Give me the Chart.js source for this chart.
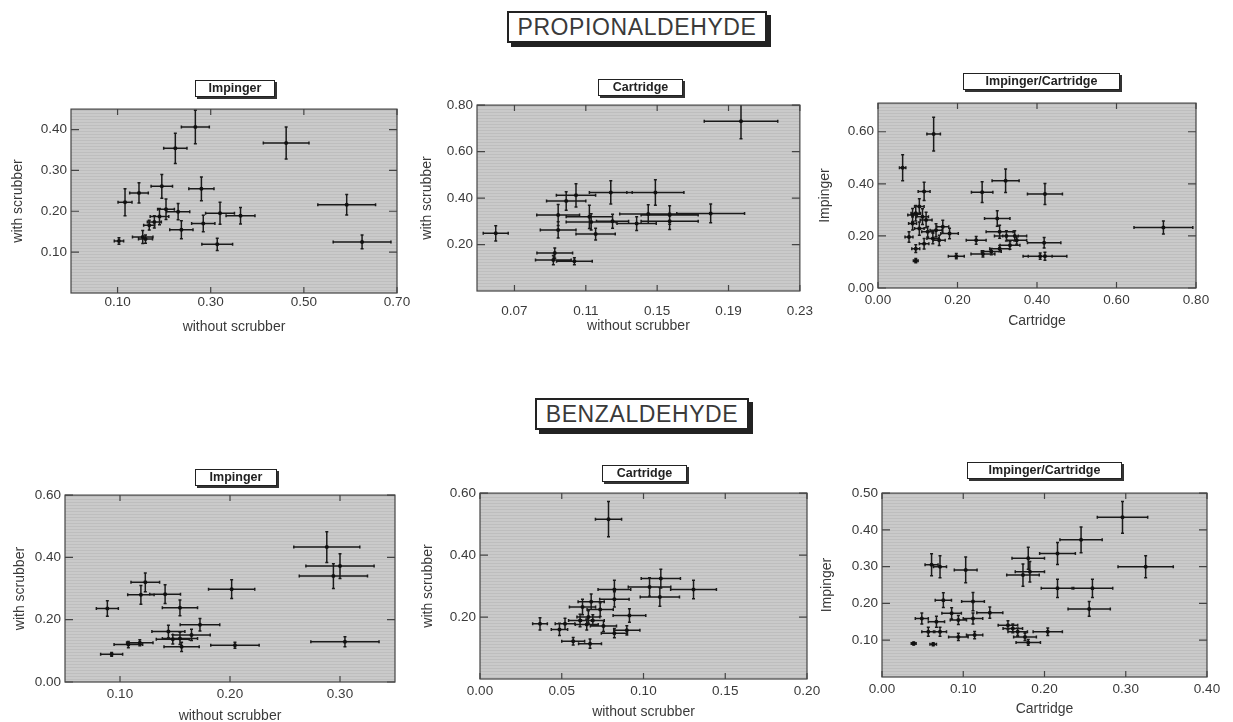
<!DOCTYPE html>
<html><head><meta charset="utf-8">
<script src="https://cdn.jsdelivr.net/npm/chart.js@4/dist/chart.umd.min.js"></script>
<style>
body{margin:0;background:#fff;width:1233px;height:722px;overflow:hidden;position:relative;font-family:"Liberation Sans",Arial,sans-serif}
.big{position:absolute;border:2px solid #222;background:#fff;box-shadow:4px 4px 0 #222;font-size:23px;color:#3a3a3a;text-align:center;letter-spacing:0.6px;line-height:28px}
.sub{position:absolute;border:1.5px solid #222;background:#fff;box-shadow:2px 2px 0 #333;font-weight:bold;font-size:12.5px;color:#222;text-align:center;line-height:15px;padding:0 3px}
canvas{position:absolute}
</style></head><body>
<div class="big" style="left:507px;top:11px;width:256px;height:28px">PROPIONALDEHYDE</div>
<div class="big" style="left:535px;top:398px;width:210px;height:28px">BENZALDEHYDE</div>
<script>
// ---------- DATA ----------
// Propionaldehyde – Impinger
const p1X    = [0.267,0.224,0.462,0.195,0.280,0.146,0.116,0.592,0.625,0.204,0.230,0.190,0.179,0.168,0.320,0.364,0.284,0.237,0.314,0.154,0.103,0.160];
const p1Y    = [0.406,0.354,0.367,0.261,0.255,0.245,0.222,0.216,0.125,0.205,0.199,0.187,0.174,0.166,0.195,0.189,0.170,0.155,0.119,0.137,0.127,0.132];
const p1XErr = [0.030,0.025,0.049,0.023,0.027,0.020,0.015,0.062,0.062,0.018,0.025,0.020,0.015,0.012,0.031,0.031,0.025,0.025,0.033,0.022,0.010,0.015];
const p1YErr = [0.041,0.037,0.039,0.029,0.029,0.025,0.033,0.025,0.017,0.025,0.020,0.020,0.015,0.012,0.027,0.020,0.020,0.022,0.015,0.016,0.008,0.010];
// Propionaldehyde – Cartridge
const p2X    = [0.197,0.0595,0.124,0.149,0.1045,0.099,0.0945,0.0945,0.112,0.113,0.1155,0.125,0.1385,0.145,0.157,0.157,0.180,0.0926,0.0918,0.1036];
const p2Y    = [0.730,0.248,0.424,0.424,0.412,0.387,0.327,0.263,0.319,0.297,0.245,0.300,0.290,0.331,0.327,0.300,0.334,0.163,0.133,0.128];
const p2XErr = [0.0206,0.007,0.012,0.016,0.011,0.011,0.012,0.010,0.013,0.014,0.011,0.009,0.011,0.016,0.016,0.016,0.019,0.010,0.010,0.010];
const p2YErr = [0.075,0.033,0.050,0.055,0.050,0.040,0.045,0.035,0.050,0.035,0.025,0.030,0.030,0.040,0.040,0.035,0.040,0.022,0.020,0.015];
// Propionaldehyde – Impinger vs Cartridge
const p3X    = [0.140,0.062,0.262,0.321,0.420,0.718,0.300,0.418,0.420,0.408,0.247,0.306,0.323,0.344,0.349,0.332,0.306,0.285,0.264,0.197,0.116,0.104,0.095,0.112,0.121,0.087,0.104,0.125,0.146,0.163,0.180,0.138,0.154,0.116,0.095,0.095,0.078,0.087];
const p3Y    = [0.591,0.462,0.368,0.412,0.361,0.232,0.267,0.174,0.122,0.122,0.183,0.216,0.200,0.200,0.183,0.164,0.151,0.140,0.131,0.122,0.371,0.313,0.287,0.274,0.261,0.248,0.228,0.216,0.222,0.235,0.209,0.190,0.183,0.170,0.151,0.105,0.196,0.280];
const p3XErr = [0.017,0.008,0.027,0.034,0.044,0.074,0.032,0.042,0.055,0.030,0.025,0.034,0.030,0.030,0.025,0.025,0.025,0.025,0.030,0.020,0.015,0.012,0.012,0.015,0.015,0.010,0.012,0.015,0.015,0.015,0.022,0.015,0.015,0.012,0.010,0.006,0.010,0.012];
const p3YErr = [0.065,0.050,0.040,0.045,0.040,0.025,0.030,0.020,0.015,0.012,0.015,0.025,0.020,0.020,0.015,0.015,0.012,0.012,0.012,0.010,0.035,0.030,0.030,0.030,0.030,0.025,0.025,0.020,0.025,0.025,0.020,0.020,0.020,0.020,0.015,0.008,0.020,0.025];
// Benzaldehyde – Impinger
const p4X    = [0.288,0.300,0.294,0.3045,0.2015,0.2045,0.123,0.119,0.141,0.1545,0.0885,0.1727,0.144,0.165,0.1545,0.156,0.118,0.1076,0.0924,0.148];
const p4Y    = [0.433,0.372,0.340,0.129,0.298,0.118,0.320,0.280,0.282,0.238,0.236,0.184,0.162,0.151,0.140,0.113,0.126,0.120,0.089,0.137];
const p4XErr = [0.030,0.031,0.031,0.031,0.021,0.022,0.013,0.012,0.014,0.016,0.010,0.018,0.015,0.017,0.016,0.016,0.012,0.013,0.010,0.015];
const p4YErr = [0.049,0.040,0.040,0.016,0.030,0.010,0.030,0.030,0.030,0.025,0.025,0.020,0.020,0.018,0.020,0.015,0.010,0.010,0.006,0.015];
// Benzaldehyde – Cartridge
const p5X    = [0.0786,0.1106,0.1037,0.1306,0.110,0.0822,0.0822,0.068,0.0627,0.0735,0.0914,0.0663,0.0612,0.0367,0.0486,0.052,0.0653,0.0755,0.0822,0.0898,0.057,0.0673,0.069];
const p5Y    = [0.516,0.324,0.297,0.289,0.265,0.289,0.257,0.249,0.232,0.224,0.205,0.200,0.189,0.178,0.160,0.178,0.176,0.171,0.148,0.157,0.122,0.114,0.189];
const p5XErr = [0.008,0.012,0.013,0.014,0.012,0.010,0.009,0.008,0.008,0.008,0.010,0.007,0.007,0.0045,0.005,0.006,0.007,0.008,0.008,0.008,0.007,0.007,0.007];
const p5YErr = [0.057,0.030,0.030,0.030,0.030,0.030,0.025,0.025,0.025,0.022,0.022,0.020,0.020,0.020,0.020,0.018,0.018,0.018,0.015,0.015,0.012,0.015,0.018];
// Benzaldehyde – Impinger vs Cartridge
const p6X    = [0.296,0.3245,0.245,0.216,0.180,0.1735,0.182,0.216,0.259,0.255,0.061,0.0714,0.103,0.0755,0.112,0.1327,0.0857,0.049,0.067,0.057,0.0714,0.094,0.114,0.112,0.039,0.063,0.155,0.161,0.167,0.176,0.180,0.204,0.094];
const p6Y    = [0.434,0.300,0.373,0.336,0.323,0.277,0.286,0.241,0.241,0.185,0.305,0.300,0.291,0.209,0.205,0.175,0.173,0.159,0.150,0.123,0.123,0.109,0.114,0.159,0.091,0.089,0.141,0.132,0.123,0.109,0.094,0.123,0.155];
const p6XErr = [0.031,0.034,0.026,0.022,0.020,0.020,0.018,0.020,0.025,0.026,0.008,0.008,0.014,0.010,0.014,0.016,0.012,0.008,0.010,0.008,0.008,0.012,0.010,0.012,0.003,0.004,0.012,0.012,0.012,0.014,0.015,0.018,0.010];
const p6YErr = [0.043,0.030,0.035,0.030,0.030,0.030,0.028,0.025,0.025,0.020,0.030,0.030,0.035,0.020,0.025,0.015,0.015,0.015,0.015,0.012,0.012,0.010,0.010,0.015,0.004,0.004,0.012,0.012,0.010,0.010,0.008,0.010,0.012];

// tick labels
const p1XTicks = [0.10,0.30,0.50,0.70], p1YTicks = [0.10,0.20,0.30,0.40];
const p2XTicks = [0.07,0.11,0.15,0.19,0.23], p2YTicks = [0.20,0.40,0.60,0.80];
const p3XTicks = [0.00,0.20,0.40,0.60,0.80], p3YTicks = [0.00,0.20,0.40,0.60];
const p4XTicks = [0.10,0.20,0.30], p4YTicks = [0.00,0.20,0.40,0.60];
const p5XTicks = [0.00,0.05,0.10,0.15,0.20], p5YTicks = [0.20,0.40,0.60];
const p6XTicks = [0.00,0.10,0.20,0.30,0.40], p6YTicks = [0.10,0.20,0.30,0.40,0.50];

// ---------- LAYOUT ----------
const panels = [
 {title:'Impinger', area:[71,109,397,293], yTitleX:18, xTitleGap:35, xPad:1, tb:[195,80,80],
  xs:p1X, ys:p1Y, xe:p1XErr, ye:p1YErr, xr:[0,0.70], yr:[0,0.45], xt:p1XTicks, yt:p1YTicks, xl:'without scrubber', yl:'with scrubber'},
 {title:'Cartridge', area:[477,105,803,291], yTitleX:427, xTitleGap:36, xPad:12, tb:[598,79,85],
  xs:p2X, ys:p2Y, xe:p2XErr, ye:p2YErr, xr:[0.049,0.23], yr:[0,0.80], xt:p2XTicks, yt:p2YTicks, xl:'without scrubber', yl:'with scrubber'},
 {title:'Impinger/Cartridge', area:[878,103,1196,288], yTitleX:825, xTitleGap:34, xPad:4, tb:[963,73,157],
  xs:p3X, ys:p3Y, xe:p3XErr, ye:p3YErr, xr:[0,0.80], yr:[0,0.71], xt:p3XTicks, yt:p3YTicks, xl:'Cartridge', yl:'Impinger'},
 {title:'Impinger', area:[65,495,395,682], yTitleX:20, xTitleGap:35, xPad:4, tb:[195,469,82],
  xs:p4X, ys:p4Y, xe:p4XErr, ye:p4YErr, xr:[0.05,0.35], yr:[0,0.60], xt:p4XTicks, yt:p4YTicks, xl:'without scrubber', yl:'with scrubber'},
 {title:'Cartridge', area:[480,493,807,679], yTitleX:428, xTitleGap:34, xPad:4, tb:[602,465,85],
  xs:p5X, ys:p5Y, xe:p5XErr, ye:p5YErr, xr:[0,0.20], yr:[0,0.60], xt:p5XTicks, yt:p5YTicks, xl:'without scrubber', yl:'with scrubber'},
 {title:'Impinger/Cartridge', area:[882,493,1207,677], yTitleX:827, xTitleGap:33, xPad:4, tb:[967,462,155],
  xs:p6X, ys:p6Y, xe:p6XErr, ye:p6YErr, xr:[0,0.40], yr:[0,0.50], xt:p6XTicks, yt:p6YTicks, xl:'Cartridge', yl:'Impinger'}
];

// ---------- PLUGINS ----------
const pat = document.createElement('canvas'); pat.width = 4; pat.height = 3;
(function(){const g = pat.getContext('2d'); g.fillStyle='#cacaca'; g.fillRect(0,0,4,3); g.fillStyle='#bebebe'; g.fillRect(0,1,4,1);})();

const plotBg = {id:'plotBg', beforeDatasetsDraw(chart){
  const {ctx, chartArea:a} = chart; ctx.save();
  ctx.fillStyle = ctx.createPattern(pat,'repeat'); ctx.fillRect(a.left,a.top,a.width,a.height);
  ctx.restore();
}};
const errBars = {id:'errBars', beforeDatasetsDraw(chart, args, opts){
  const {ctx, chartArea:a, scales:{x, y}} = chart;
  ctx.save(); ctx.beginPath(); ctx.rect(a.left,a.top,a.width,a.height); ctx.clip();
  ctx.strokeStyle = '#1a1a1a'; ctx.lineWidth = 1.5; ctx.beginPath();
  opts.xs.forEach((xv,i)=>{
    const yv = opts.ys[i];
    const px = x.getPixelForValue(xv), py = y.getPixelForValue(yv);
    const x0 = x.getPixelForValue(xv-opts.xe[i]), x1 = x.getPixelForValue(xv+opts.xe[i]);
    const y0 = y.getPixelForValue(yv-opts.ye[i]), y1 = y.getPixelForValue(yv+opts.ye[i]);
    ctx.moveTo(x0,py); ctx.lineTo(x1,py);
    ctx.moveTo(px,y0); ctx.lineTo(px,y1);
    ctx.moveTo(x0,py-1.5); ctx.lineTo(x0,py+1.5);
    ctx.moveTo(x1,py-1.5); ctx.lineTo(x1,py+1.5);
    ctx.moveTo(px-1.5,y0); ctx.lineTo(px+1.5,y0);
    ctx.moveTo(px-1.5,y1); ctx.lineTo(px+1.5,y1);
  });
  ctx.stroke(); ctx.restore();
}};
const frame = {id:'frame', afterDatasetsDraw(chart){
  const {ctx, chartArea:a, scales:{x, y}} = chart;
  ctx.save(); ctx.strokeStyle='#444'; ctx.lineWidth=1.2;
  ctx.strokeRect(a.left,a.top,a.width,a.height);
  ctx.beginPath();
  x.ticks.forEach(t=>{const p = x.getPixelForValue(t.value);
    ctx.moveTo(p,a.top); ctx.lineTo(p,a.top+6); ctx.moveTo(p,a.bottom); ctx.lineTo(p,a.bottom-6);});
  y.ticks.forEach(t=>{const p = y.getPixelForValue(t.value);
    ctx.moveTo(a.left,p); ctx.lineTo(a.left+8,p); ctx.moveTo(a.right,p); ctx.lineTo(a.right-8,p);});
  ctx.stroke(); ctx.restore();
}};

// ---------- BUILD ----------
const fam = '"Liberation Sans", Arial, sans-serif';
panels.forEach(P=>{
  const [L,T,R,B] = P.area;
  const cLeft = Math.round(P.yTitleX - 8.4);
  const yW = L - cLeft, xH = Math.round(P.xTitleGap + 8.4), padTop = 12, padRight = 22;
  const cv = document.createElement('canvas');
  cv.width = (R-L) + yW + padRight; cv.height = (B-T) + padTop + xH;
  cv.style.left = cLeft+'px'; cv.style.top = (T-padTop)+'px';
  document.body.appendChild(cv);

  const tb = document.createElement('div'); tb.className='sub'; tb.textContent = P.title;
  tb.style.left = P.tb[0]+'px'; tb.style.top = P.tb[1]+'px'; tb.style.width = (P.tb[2]-8)+'px';
  document.body.appendChild(tb);

  new Chart(cv, {
    type:'scatter',
    data:{datasets:[{data:P.xs.map((v,i)=>({x:v,y:P.ys[i]})), pointRadius:2, pointBackgroundColor:'#111', pointBorderWidth:0, pointHoverRadius:2}]},
    options:{
      responsive:false, animation:false,
      layout:{padding:{left:0,top:padTop,right:padRight,bottom:0}},
      plugins:{legend:{display:false}, tooltip:{enabled:false},
        errBars:{xs:P.xs, ys:P.ys, xe:P.xe, ye:P.ye}},
      scales:{
        x:{type:'linear', min:P.xr[0], max:P.xr[1],
           grid:{display:false, drawTicks:false}, border:{display:false},
           afterBuildTicks:s=>{s.ticks = P.xt.map(v=>({value:v}));},
           afterFit:s=>{s.height = xH;},
           ticks:{padding:P.xPad, color:'#3a3a3a', font:{family:fam,size:13.5}, maxRotation:0, autoSkip:false, callback:v=>Number(v).toFixed(2)},
           title:{display:true, text:P.xl, color:'#3a3a3a', font:{family:fam,size:14}, padding:0}},
        y:{type:'linear', min:P.yr[0], max:P.yr[1],
           grid:{display:false, drawTicks:false}, border:{display:false},
           afterBuildTicks:s=>{s.ticks = P.yt.map(v=>({value:v}));},
           afterFit:s=>{s.width = yW;},
           ticks:{padding:4, color:'#3a3a3a', font:{family:fam,size:13.5}, autoSkip:false, callback:v=>Number(v).toFixed(2)},
           title:{display:true, text:P.yl, color:'#3a3a3a', font:{family:fam,size:14}, padding:0}}
      }
    },
    plugins:[plotBg, errBars, frame]
  });
});
</script>
</body></html>
